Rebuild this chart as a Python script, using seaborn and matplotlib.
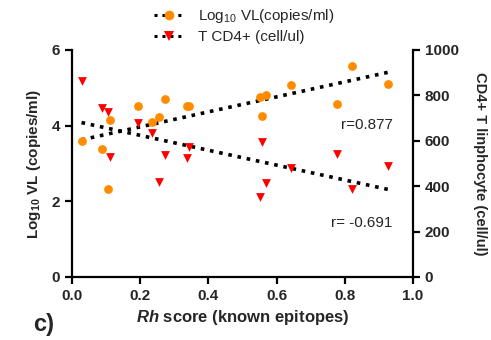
import numpy as np
import pandas as pd
import seaborn as sns
import matplotlib.pyplot as plt
from matplotlib.lines import Line2D

# Rh score (known epitopes) per patient
rh_score = [0.028, 0.088, 0.106, 0.112, 0.194, 0.234, 0.255, 0.273, 0.338,
            0.343, 0.550, 0.557, 0.568, 0.641, 0.778, 0.821, 0.928]
# Log10 viral load (copies/ml)
log_vl = [3.60, 3.39, 2.33, 4.15, 4.53, 4.09, 4.22, 4.70, 4.53,
          4.53, 4.75, 4.26, 4.81, 5.08, 4.58, 5.58, 5.09]
# T CD4+ counts (cell/ul)
cd4 = [863, 743, 728, 530, 680, 633, 420, 537, 526,
       571, 351, 596, 415, 479, 540, 387, 489]

r_vl = "r=0.877"
r_cd4 = "r= -0.691"

df = pd.DataFrame({"rh": rh_score, "vl": log_vl, "cd4": cd4})

sns.set_theme(style="ticks")
plt.rcParams["font.family"] = ["Liberation Sans", "DejaVu Sans"]
plt.rcParams["mathtext.fontset"] = "custom"
plt.rcParams["mathtext.rm"] = "Liberation Sans"
plt.rcParams["mathtext.it"] = "Liberation Sans:italic:bold"
plt.rcParams["mathtext.bf"] = "Liberation Sans:bold"

orange = "#ff8c00"
red = "#ff0000"
dots = dict(color="black", linestyle=(0, (1, 1.6)), linewidth=2.6)

fig = plt.figure(figsize=(4.91, 3.40), dpi=100)
ax = fig.add_axes([0.1466, 0.1853, 0.6945, 0.6677])
ax2 = ax.twinx()

sns.regplot(data=df, x="rh", y="vl", ax=ax, ci=None, marker="o",
            scatter_kws=dict(color=orange, s=40, linewidths=0, alpha=1,
                             zorder=3),
            line_kws=dots)
sns.regplot(data=df, x="rh", y="cd4", ax=ax2, ci=None, marker="v",
            scatter_kws=dict(color=red, s=40, linewidths=0, alpha=1,
                             zorder=3),
            line_kws=dots)

ax.set_xlim(0, 1.0)
ax.set_ylim(0, 6)
ax2.set_ylim(0, 1000)
ax.set_xticks([0, 0.2, 0.4, 0.6, 0.8, 1.0])
ax.set_yticks([0, 2, 4, 6])
ax2.set_yticks([0, 200, 400, 600, 800, 1000])
ax.xaxis.set_major_formatter(plt.FormatStrFormatter("%.1f"))

for a in (ax, ax2):
    a.spines["top"].set_visible(False)
    for s in a.spines.values():
        s.set_linewidth(1.6)
        s.set_color("black")
    a.tick_params(width=1.6, length=5, color="black", labelsize=11)
    for lab in a.get_xticklabels() + a.get_yticklabels():
        lab.set_fontweight("bold")
ax.spines["right"].set_visible(False)
ax2.spines["left"].set_visible(False)
ax2.spines["bottom"].set_visible(False)

ax.set_xlabel(r"$Rh$ score (known epitopes)", fontsize=12,
              fontweight="bold", labelpad=4)
ax.set_ylabel(r"Log$_{\mathbf{10}}$ VL (copies/ml)", fontsize=11,
              fontweight="bold", labelpad=6)
ax2.set_ylabel("CD4+ T linphocyte (cell/ul)", fontsize=10.5,
               fontweight="bold", rotation=270, labelpad=20)

ax.text(0.94, 4.02, r_vl, ha="right", va="center", fontsize=11)
ax2.text(0.94, 240, r_cd4, ha="right", va="center", fontsize=11)

fig.text(0.068, 0.025, "c)", fontsize=17, fontweight="bold")

handles = [
    Line2D([], [], marker="o", color="black", linestyle=(0, (1, 1.6)),
           linewidth=2.2, markerfacecolor=orange, markeredgewidth=0,
           markersize=7),
    Line2D([], [], marker="v", color="black", linestyle=(0, (1, 1.6)),
           linewidth=2.2, markerfacecolor=red, markeredgewidth=0,
           markersize=7),
]
fig.legend(handles, [r"Log$_{10}$ VL(copies/ml)", "T CD4+ (cell/ul)"],
           loc="upper left", bbox_to_anchor=(0.285, 1.02), frameon=False,
           fontsize=11, handlelength=2.0, handletextpad=0.9,
           labelspacing=0.35)

fig.savefig("out.png", dpi=100)
